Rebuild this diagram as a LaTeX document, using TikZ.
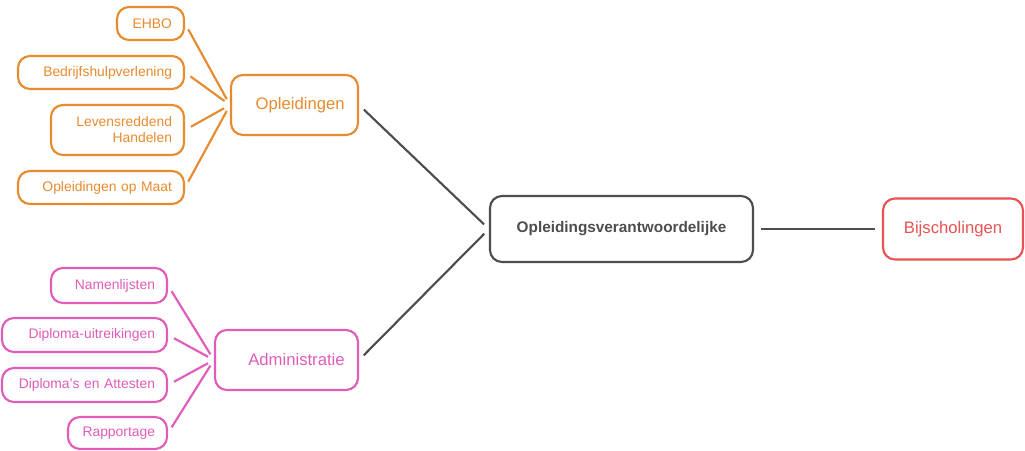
\documentclass[tikz,border=0pt]{standalone}
\usepackage{fontspec}
\setmainfont{Liberation Sans}
\definecolor{oranje}{RGB}{232,138,46}
\definecolor{roze}{RGB}{224,92,184}
\definecolor{rood}{RGB}{232,82,82}
\definecolor{grijs}{RGB}{77,77,77}
\tikzset{
  box/.style={draw, line width=1.6pt, rounded corners=9pt, inner ysep=0pt, minimum height=24.75pt},
  leaf/.style={box, align=right, inner xsep=9pt, font=\fontsize{10.4}{12}\selectfont},
  hub/.style={box, align=right, inner xsep=10pt, font=\fontsize{12.5}{14}\selectfont},
  link/.style={line width=1.6pt, shorten <=5pt, shorten >=5pt}
}

\begin{document}
\begin{tikzpicture}[x=0.75pt,y=0.75pt,yscale=-1,xscale=1]
%set diagram: 1025 x 450
\useasboundingbox (0,0) rectangle (1025,450);

% Root
\node (root) at (621.5,229) [box, draw=grijs, text=grijs, minimum width=197.25pt, minimum height=49.5pt, font=\fontsize{11.5}{13}\selectfont\bfseries] {Opleidingsverantwoordelijke};
% Right branch
\node (bij) at (953,229) [box, draw=rood, text=rood, minimum width=105pt, minimum height=45.75pt, font=\fontsize{12.5}{14}\selectfont] {Bijscholingen};

% Upper branch
\node (opl) at (294.5,105) [hub, draw=oranje, text=oranje, text width=75.25pt, minimum height=45pt] {Opleidingen};
\node (ehbo) at (150.5,23.5) [leaf, draw=oranje, text=oranje, text width=32.25pt] {EHBO};
\node (bhv) at (101,72.5) [leaf, draw=oranje, text=oranje, text width=106.5pt] {Bedrijfshulpverlening};
\node (lev) at (117.5,130) [leaf, draw=oranje, text=oranje, text width=81.75pt, minimum height=37.5pt] {Levensreddend\\Handelen};
\node (maat) at (101,187.5) [leaf, draw=oranje, text=oranje, text width=106.5pt] {Opleidingen op Maat};

% Lower branch
\node (adm) at (286.5,360) [hub, draw=roze, text=roze, text width=87.25pt, minimum height=45pt] {Administratie};
\node (naam) at (109,285.5) [leaf, draw=roze, text=roze, text width=69pt, minimum height=26.25pt] {Namenlijsten};
\node (dipu) at (84.5,335) [leaf, draw=roze, text=roze, text width=105.75pt, minimum height=25.5pt] {Diploma-uitreikingen};
\node (dipa) at (84.5,385) [leaf, draw=roze, text=roze, text width=105.75pt, minimum height=25.5pt] {Diploma's en Attesten};
\node (rap) at (117.5,433) [leaf, draw=roze, text=roze, text width=56.25pt, minimum height=24pt] {Rapportage};

% Connectors
\draw [link, grijs] (opl.east) -- (root.west);
\draw [link, grijs] (adm.east) -- (root.west);
\draw [link, grijs] (root.east) -- (bij.west);

\foreach \n in {ehbo,bhv,lev,maat}
  \draw [link, oranje] (\n.east) -- (opl.west);
\foreach \n in {naam,dipu,dipa,rap}
  \draw [link, roze] (\n.east) -- (adm.west);

\end{tikzpicture}
\end{document}
